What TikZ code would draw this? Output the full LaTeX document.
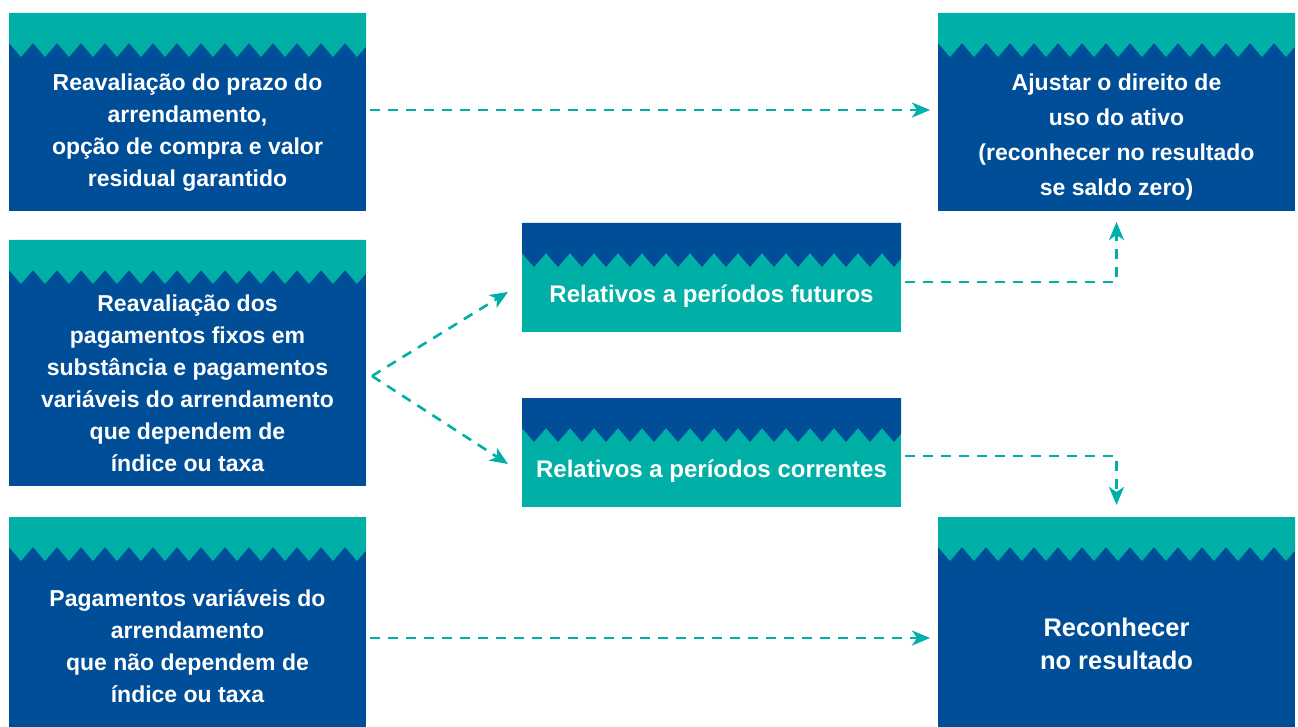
\documentclass[tikz,border=0pt]{standalone}
\usepackage{fontspec}
\setmainfont{Liberation Sans}
\definecolor{brandBlue}{HTML}{004E98}
\definecolor{brandTeal}{HTML}{00AFA5}
\usetikzlibrary{arrows.meta, positioning, calc}
\tikzset{
    box node/.style 2 args={rectangle, fill=#2, inner sep=0pt, outer sep=0pt,
        path picture={
            \fill[#1] (path picture bounding box.north west) -- ++(0pt,-30pt)
                \foreach \k in {1,...,17} { -- ++(12pt,-14pt) -- ++(12pt,14pt) }
                |- (path picture bounding box.north west) -- cycle;
        }},
    outer box/.style={box node={brandTeal}{brandBlue}, minimum width=357pt},
    inner box/.style={box node={brandBlue}{brandTeal}, minimum width=379pt, minimum height=109pt},
    box text/.style={text=white, align=center, font=\bfseries\fontsize{23}{32}\selectfont},
    arrow style/.style={-{Stealth[length=18pt, width=15pt, inset=5pt]}, brandTeal, line width=2.6pt, dash pattern=on 10pt off 8pt},
}

\begin{document}
\begin{tikzpicture}[x=1pt, y=-1pt]
    \useasboundingbox (0,0) rectangle (1298,727);
    % left column
    \node[outer box, minimum height=198pt] (prazo) at (187.5,112) {};
    \node[outer box, minimum height=246pt, below=29pt of prazo] (fixos) {};
    \node[outer box, minimum height=210pt, below=31pt of fixos] (variaveis) {};
    % right column
    \node[outer box, minimum height=198pt, right=572pt of prazo] (ajustar) {};
    \node[outer box, minimum height=210pt, right=572pt of variaveis] (reconhecer) {};
    % middle column
    \node[inner box] (futuros) at (711.5,277.5) {};
    \node[inner box, below=66pt of futuros] (correntes) {};

    \node[box text] (prazo text) at ([yshift=-21pt]prazo.center)
        {Reavaliação do prazo do\\arrendamento,\\opção de compra e valor\\residual garantido};
    \node[box text] (fixos text) at ([yshift=-20pt]fixos.center)
        {Reavaliação dos\\pagamentos fixos em\\substância e pagamentos\\variáveis do arrendamento\\que dependem de\\índice ou taxa};
    \node[box text] (variaveis text) at ([yshift=-24pt]variaveis.center)
        {Pagamentos variáveis do\\arrendamento\\que não dependem de\\índice ou taxa};
    \node[box text, font=\bfseries\fontsize{23}{35}\selectfont] (ajustar text) at ([yshift=-25pt]ajustar.center)
        {Ajustar o direito de\\uso do ativo\\(reconhecer no resultado\\se saldo zero)};
    \node[box text, font=\bfseries\fontsize{25.5}{33}\selectfont] (reconhecer text) at ([yshift=-22pt]reconhecer.center)
        {Reconhecer\\no resultado};
    \node[box text, font=\bfseries\fontsize{24}{30}\selectfont] (futuros text) at ([yshift=-19pt]futuros.center)
        {Relativos a períodos futuros};
    \node[box text, font=\bfseries\fontsize{24}{30}\selectfont] (correntes text) at ([yshift=-19pt]correntes.center)
        {Relativos a períodos correntes};

    % connectors
    \coordinate (fork) at ([xshift=6pt,yshift=-13pt]fixos.east);
    \draw[arrow style] ([xshift=4pt,yshift=2pt]prazo.east) -- ([xshift=-8pt,yshift=2pt]ajustar.west);
    \draw[arrow style] ([xshift=4pt,yshift=-16pt]variaveis.east) -- ([xshift=-8pt,yshift=-16pt]reconhecer.west);
    \draw[arrow style] (fork) -- ([xshift=-14pt,yshift=-14.5pt]futuros.west);
    \draw[arrow style] (fork) -- ([xshift=-14pt,yshift=-11.5pt]correntes.west);
    \draw[arrow style] ([xshift=4pt,yshift=-4.5pt]futuros.east) -| ([yshift=-11pt]ajustar.south);
    \draw[arrow style] ([xshift=4pt,yshift=-3.5pt]correntes.east) -| ([yshift=12pt]reconhecer.north);
\end{tikzpicture}
\end{document}
